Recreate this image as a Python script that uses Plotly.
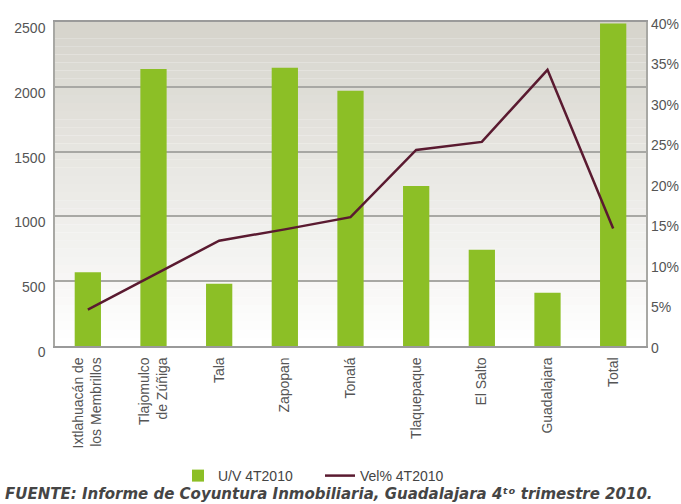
import plotly.graph_objects as go

# Municipios y valores del 4T2010
categorias = [
    "Ixtlahuacán de<br>los Membrillos",
    "Tlajomulco<br>de Zúñiga",
    "Tala",
    "Zapopan",
    "Tonalá",
    "Tlaquepaque",
    "El Salto",
    "Guadalajara",
    "Total",
]
uv_4t2010 = [570, 2137, 480, 2147, 1969, 1235, 743, 411, 2489]
vel_4t2010 = [4.5, 8.8, 13.0, 14.4, 15.9, 24.2, 25.2, 34.1, 14.5]

y_ticks = [0, 500, 1000, 1500, 2000, 2500]
y2_ticks = [0, 5, 10, 15, 20, 25, 30, 35, 40]
y2_labels = ["0", "5%", "10%", "15%", "20%", "25%", "30%", "35%", "40%"]

FONT = "Liberation Sans, Arial, sans-serif"
TICK_COLOR = "#555555"

fig = go.Figure()

fig.add_trace(go.Bar(
    x=categorias, y=uv_4t2010, name="U/V 4T2010",
    marker=dict(color="#8cbf26", line=dict(width=0)),
    width=0.4, legend="legend",
))
fig.add_trace(go.Scatter(
    x=categorias, y=vel_4t2010, name="Vel% 4T2010", yaxis="y2",
    mode="lines", line=dict(color="#5a1a30", width=2.5),
    legend="legend2",
))

# Vertical gradient behind the plot area (grey at top fading to white)
n_strips = 40
top_rgb = (214, 212, 204)
bot_rgb = (255, 255, 255)
shapes = []
for i in range(n_strips):
    t = i / (n_strips - 1)
    r = round(bot_rgb[0] + (top_rgb[0] - bot_rgb[0]) * t)
    g = round(bot_rgb[1] + (top_rgb[1] - bot_rgb[1]) * t)
    b = round(bot_rgb[2] + (top_rgb[2] - bot_rgb[2]) * t)
    shapes.append(dict(
        type="rect", xref="paper", yref="paper",
        x0=0, x1=1, y0=i / n_strips, y1=(i + 1) / n_strips,
        fillcolor=f"rgb({r},{g},{b})", line=dict(width=0), layer="below",
    ))

# plot area: x 55..646, y 22..346 (pixels)
PW, PH = 591.0, 324.0
def px_x(px):
    return (px - 55) / PW
def px_y(py):
    return (346 - py) / PH

legend_common = dict(
    orientation="h", yanchor="middle",
    font=dict(size=14, color="#444444"), bgcolor="rgba(0,0,0,0)",
    itemwidth=30, borderwidth=0,
)

fig.update_layout(
    width=681, height=504,
    margin=dict(l=55, r=35, t=22, b=158, autoexpand=False),
    paper_bgcolor="white",
    plot_bgcolor="white",
    font=dict(family=FONT, size=14, color=TICK_COLOR),
    shapes=shapes,
    showlegend=True,
    legend=dict(legend_common, x=px_x(178), y=px_y(476), xanchor="left"),
    legend2=dict(legend_common, x=px_x(320), y=px_y(476), xanchor="left"),
    xaxis=dict(
        tickangle=-90, showgrid=False, ticks="", automargin=False,
        showline=True, linecolor="#9a9a9a", linewidth=1.5, mirror=True,
        ticklabelstandoff=4,
        tickfont=dict(size=14, color=TICK_COLOR),
    ),
    yaxis=dict(
        range=[0, 2500], tickvals=y_ticks, ticks="", automargin=False,
        showgrid=True, gridcolor="#a8a8a4", gridwidth=1.5,
        showline=True, linecolor="#a8a8a4", linewidth=1.5, mirror=True,
        zeroline=False, ticklabelshift=6, ticklabelstandoff=5,
        tickfont=dict(size=14, color=TICK_COLOR),
    ),
    yaxis2=dict(
        range=[0, 40], overlaying="y", side="right", automargin=False,
        tickvals=y2_ticks, ticktext=y2_labels, ticks="",
        showgrid=False, zeroline=False, showline=False,
        ticklabelshift=2, ticklabelstandoff=4,
        tickfont=dict(size=14, color=TICK_COLOR),
    ),
    annotations=[dict(
        text="<i><b>FUENTE: Informe de Coyuntura Inmobiliaria, Guadalajara 4ᵗᵒ trimestre 2010.</b></i>",
        xref="paper", yref="paper", x=px_x(3), y=px_y(505), xanchor="left", yanchor="bottom",
        showarrow=False, font=dict(size=15, color="#454545", family="DejaVu Sans, sans-serif"),
    )],
)

fig.write_html("out.html")
